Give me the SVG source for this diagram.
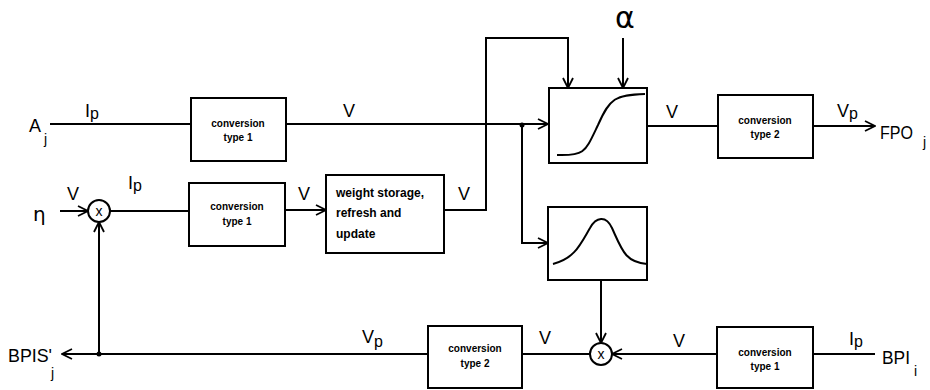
<svg xmlns="http://www.w3.org/2000/svg" width="930" height="390" viewBox="0 0 930 390">
<defs>
<marker id="arr" viewBox="0 0 12 12" refX="11" refY="6" markerWidth="12" markerHeight="12" markerUnits="userSpaceOnUse" orient="auto">
<path d="M1,1 L11,6 L1,11" fill="none" stroke="#000" stroke-width="1.8"/>
</marker>
<style>
.b{fill:#fff;stroke:#000;stroke-width:2}
.l{fill:none;stroke:#000;stroke-width:2}
.bt{font-family:"Liberation Sans",Arial,sans-serif;font-size:10px;font-weight:bold;text-anchor:middle}
.wt{font-family:"Liberation Sans",Arial,sans-serif;font-size:12px;font-weight:bold}
.lb{font-family:"Liberation Sans",Arial,sans-serif;font-size:18px}
.sb{font-family:"Liberation Sans",Arial,sans-serif;font-size:14px}
.gr{font-family:"DejaVu Sans",sans-serif}
</style>
</defs>
<rect width="930" height="390" fill="#fff"/>

<g id="connectors">
<path class="l" d="M50,124 H191"/>
<path class="l" d="M286,124 H548" marker-end="url(#arr)"/>
<circle cx="522" cy="125" r="2.5" fill="#000"/>
<path class="l" d="M522,125 V243 H548" marker-end="url(#arr)"/>
<path class="l" d="M444,210 H486 V38 H568 V88" marker-end="url(#arr)"/>
<path class="l" d="M623,38 V88" marker-end="url(#arr)"/>
<path class="l" d="M647,126 H718"/>
<path class="l" d="M813,126 H875" marker-end="url(#arr)"/>
<path class="l" d="M60,211 H88" marker-end="url(#arr)"/>
<path class="l" d="M110,211 H189"/>
<path class="l" d="M285,210 H326" marker-end="url(#arr)"/>
<path class="l" d="M601,280 V343" marker-end="url(#arr)"/>
<path class="l" d="M875,354 H813"/>
<path class="l" d="M717,354 H612" marker-end="url(#arr)"/>
<path class="l" d="M590,354 H522"/>
<path class="l" d="M428,354 H62" marker-end="url(#arr)"/>
<circle cx="99" cy="354" r="2.5" fill="#000"/>
<path class="l" d="M99,354 V222" marker-end="url(#arr)"/>
</g>

<g id="conv1_top">
<rect class="b" x="191" y="98" width="95" height="63"/>
<text class="bt" x="238" y="127">conversion</text>
<text class="bt" x="238" y="141">type 1</text>
</g>

<g id="conv1_mid">
<rect class="b" x="189" y="183" width="96" height="63"/>
<text class="bt" x="237" y="210">conversion</text>
<text class="bt" x="237" y="225">type 1</text>
</g>

<g id="weight">
<rect class="b" x="326" y="175" width="118" height="78"/>
<text class="wt" x="336" y="197">weight storage,</text>
<text class="wt" x="336" y="217">refresh and</text>
<text class="wt" x="336" y="238">update</text>
</g>

<g id="sigmoid">
<rect class="b" x="549" y="88" width="98" height="75"/>
<path class="l" d="M557,155 C585,156 585,152 598,125 C610,98 615,95 645,94"/>
</g>

<g id="gaussian">
<rect class="b" x="548" y="207" width="99" height="73"/>
<path class="l" d="M553,264 C575,258 580,245 590,228 C596,217 606,215 612,228 C622,250 625,262 647,264"/>
</g>

<g id="conv2_top">
<rect class="b" x="718" y="95" width="95" height="63"/>
<text class="bt" x="765" y="124">conversion</text>
<text class="bt" x="765" y="138">type 2</text>
</g>

<g id="mult_top">
<circle class="l" cx="99" cy="211" r="11"/>
<text class="sb" x="99" y="216" text-anchor="middle">x</text>
</g>

<g id="mult_bot">
<circle class="l" cx="601" cy="354" r="11"/>
<text class="sb" x="601" y="359" text-anchor="middle">x</text>
</g>

<g id="conv2_bot">
<rect class="b" x="428" y="326" width="94" height="62"/>
<text class="bt" x="475" y="352">conversion</text>
<text class="bt" x="475" y="367">type 2</text>
</g>

<g id="conv1_bot">
<rect class="b" x="717" y="327" width="96" height="61"/>
<text class="bt" x="765" y="356">conversion</text>
<text class="bt" x="765" y="370">type 1</text>
</g>

<g id="labels">
<text class="lb" x="29" y="132" font-size="20">A</text>
<text class="sb" x="44" y="144">j</text>
<text class="lb" x="85" y="117">I<tspan dy="2" font-size="16">p</tspan></text>
<text class="lb" x="343" y="117">V</text>
<text class="gr" x="615" y="28" font-size="30">α</text>
<text class="lb" x="666" y="118">V</text>
<text class="lb" x="837" y="117">V<tspan dy="2" font-size="16">p</tspan></text>
<text class="lb" x="880" y="139" font-size="20" textLength="33" lengthAdjust="spacingAndGlyphs">FPO</text>
<text class="sb" x="923" y="147">j</text>
<text class="gr" x="33" y="221" font-size="20">η</text>
<text class="lb" x="67" y="200">V</text>
<text class="lb" x="128" y="189" font-size="20">I<tspan dy="2" font-size="16">p</tspan></text>
<text class="lb" x="298" y="200">V</text>
<text class="lb" x="458" y="200">V</text>
<text class="lb" x="8" y="362" font-size="20" textLength="44" lengthAdjust="spacingAndGlyphs">BPIS'</text>
<text class="sb" x="51" y="378">j</text>
<text class="lb" x="362" y="343">V<tspan dy="4" font-size="16">p</tspan></text>
<text class="lb" x="539" y="344">V</text>
<text class="lb" x="673" y="347">V</text>
<text class="lb" x="849" y="345">I<tspan dy="2" font-size="16">p</tspan></text>
<text class="lb" x="882" y="364" font-size="20" textLength="28" lengthAdjust="spacingAndGlyphs">BPI</text>
<text class="sb" x="914" y="376">i</text>
</g>
</svg>
